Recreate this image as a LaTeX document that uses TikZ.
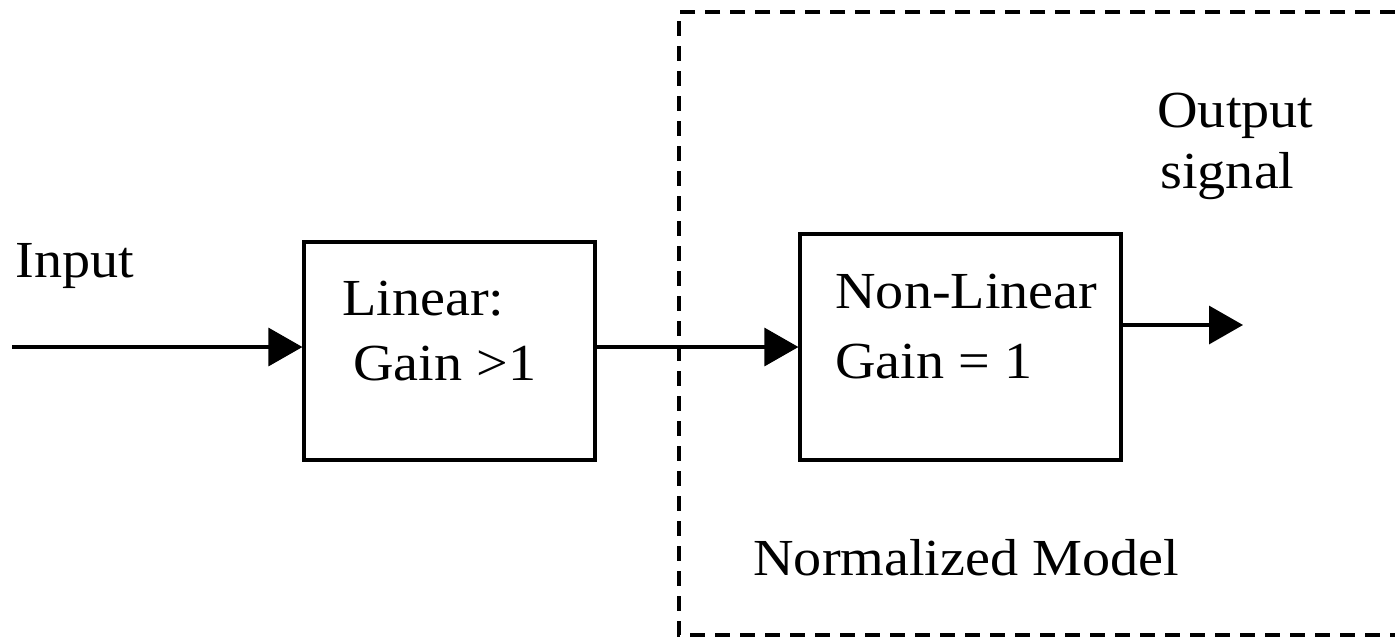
\documentclass[tikz,border=0pt]{standalone}
\usepackage{fontspec}
\setmainfont{Liberation Serif}[FakeStretch=1.08]
\usetikzlibrary{arrows.meta}
\tikzset{
  block/.style={draw, line width=1.6pt, minimum width=#1, inner sep=0pt},
  sig/.style={line width=1.6pt, -{Triangle[length=17pt,width=19pt]}},
  label/.style={anchor=base west, inner sep=0pt, font=\fontsize{26pt}{30pt}\selectfont},
  zone/.style={line width=1.9pt, dash pattern=on 7.5pt off 5pt}
}
\begin{document}
\begin{tikzpicture}[x=0.5pt, y=-0.5pt]
  \useasboundingbox (0,0) rectangle (1395,639);

  % dashed region of the normalized model (open on the right)
  \coordinate (zr) at (1395,12);
  \coordinate (zt) at (679,12);
  \coordinate (zb) at (679,635);
  \coordinate (zbr) at (1395,635);
  \draw[zone] (zr) -- (zt) -- (zb) -- (zbr);

  % blocks
  \node[block=145.5pt, minimum height=109pt] (lin) at (449.5,351) {};
  \node[block=160.5pt, minimum height=113pt] (nl) at (960.5,347) {};

  % block texts
  \node[label] (t1) at (342,315) {Linear:};
  \node[label] (t2) at (353,380) {Gain >1};
  \node[label] (t3) at (835,308) {Non-Linear};
  \node[label] (t4) at (835,378) {Gain = 1};

  % free labels
  \node[label] (tin) at (15,277) {Input};
  \node[label] (tout1) at (1157,127) {Output};
  \node[label] (tout2) at (1160,188) {signal};
  \node[label] (tnm) at (753,575) {Normalized Model};

  % signal path
  \coordinate (in) at (12,347);
  \coordinate (out) at (1243,325);
  \draw[sig] (in) -- (in -| lin.west);
  \draw[sig] (lin.east |- in) -- (nl.west);
  \draw[sig] (nl.east |- out) -- (out);
\end{tikzpicture}
\end{document}
